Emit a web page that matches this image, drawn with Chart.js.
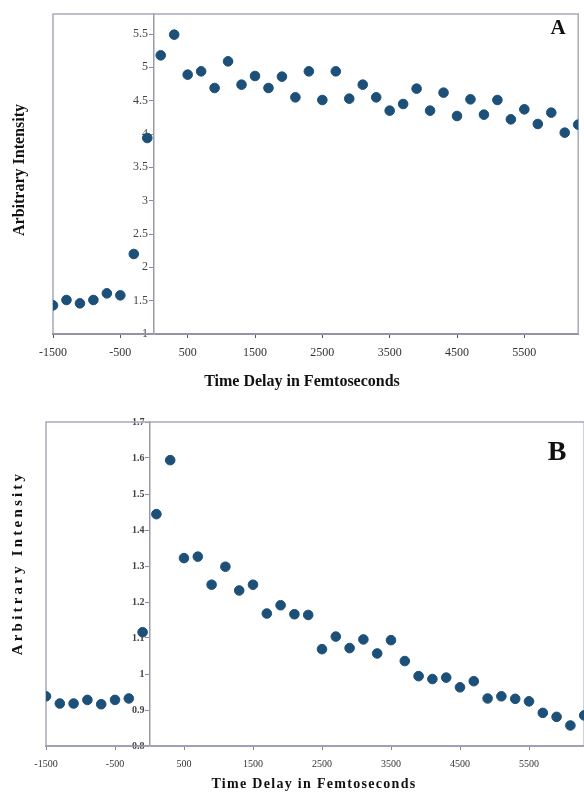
<!DOCTYPE html>
<html>
<head>
<meta charset="utf-8">
<script src="https://cdn.jsdelivr.net/npm/chart.js@4.4.1/dist/chart.umd.min.js"></script>
<style>
  html, body { margin: 0; padding: 0; background: #fff; overflow: hidden; width: 584px; height: 793px; }
  .box { position: absolute; left: 0; }
  .lbl { position: absolute; font-family: 'Liberation Serif', 'Times New Roman', serif; font-weight: bold; color: #111; white-space: nowrap; }
  .rot { transform: translate(-50%, -50%) rotate(-90deg); }
  .ctr { transform: translate(-50%, -50%); }
</style>
</head>
<body>
<div class="box" style="top:0;width:584px;height:400px"><canvas id="chartA"></canvas></div>
<div class="box" style="top:400px;width:590px;height:400px"><canvas id="chartB"></canvas></div>

<div class="lbl rot" style="left:19px;top:170px;font-size:16px">Arbitrary Intensity</div>
<div class="lbl ctr" style="left:302px;top:381px;font-size:16px">Time Delay in Femtoseconds</div>
<div class="lbl ctr" style="left:558px;top:27px;font-size:21px">A</div>

<div class="lbl rot" style="left:17px;top:563px;font-size:15px;letter-spacing:3.2px">Arbitrary Intensity</div>
<div class="lbl ctr" style="left:314px;top:784px;font-size:14px;letter-spacing:1.3px">Time Delay in Femtoseconds</div>
<div class="lbl ctr" style="left:557px;top:451px;font-size:28px">B</div>

<script>
// retardo (fs), 200 fs entre puntos
var delays = [-1500, -1300, -1100, -900, -700, -500, -300, -100,
  100, 300, 500, 700, 900, 1100, 1300, 1500, 1700, 1900, 2100, 2300,
  2500, 2700, 2900, 3100, 3300, 3500, 3700, 3900, 4100, 4300, 4500,
  4700, 4900, 5100, 5300, 5500, 5700, 5900, 6100, 6300];

var intensityA = [1.43, 1.51, 1.46, 1.51, 1.61, 1.58, 2.20, 3.94,
  5.18, 5.49, 4.89, 4.94, 4.69, 5.09, 4.74, 4.87, 4.69, 4.86, 4.55, 4.94,
  4.51, 4.94, 4.53, 4.74, 4.55, 4.35, 4.45, 4.68, 4.35, 4.62, 4.27,
  4.52, 4.29, 4.51, 4.22, 4.37, 4.15, 4.32, 4.02, 4.14];

var intensityB = [0.938, 0.918, 0.918, 0.928, 0.916, 0.928, 0.932, 1.116,
  1.444, 1.594, 1.322, 1.326, 1.248, 1.298, 1.232, 1.248, 1.168, 1.191, 1.166, 1.164,
  1.069, 1.104, 1.072, 1.096, 1.057, 1.094, 1.036, 0.994, 0.986, 0.990, 0.963,
  0.980, 0.932, 0.938, 0.931, 0.924, 0.892, 0.881, 0.857, 0.885];

var xTicks = [-1500, -500, 500, 1500, 2500, 3500, 4500, 5500];
var yTicksA = [1, 1.5, 2, 2.5, 3, 3.5, 4, 4.5, 5, 5.5];
var yTicksB = [0.8, 0.9, 1, 1.1, 1.2, 1.3, 1.4, 1.5, 1.6, 1.7];

var DOT = '#1d5078';
var SERIF = "'Liberation Serif', 'Times New Roman', serif";

// marco gris alrededor del área del gráfico
var framePlugin = {
  id: 'frame',
  beforeDatasetsDraw: function(chart, args, opts) {
    var a = chart.chartArea, ctx = chart.ctx;
    ctx.save();
    ctx.strokeStyle = opts.color;
    ctx.lineWidth = 1.5;
    ctx.strokeRect(a.left, a.top, a.right - a.left, a.bottom - a.top);
    ctx.restore();
  }
};

function makeChart(id, values, yTicks, cfg) {
  var points = delays.map(function(d, i) { return { x: d, y: values[i] }; });
  return new Chart(document.getElementById(id), {
    type: 'scatter',
    data: { datasets: [{ data: points, backgroundColor: DOT, borderColor: DOT, pointRadius: cfg.r, pointHoverRadius: cfg.r }] },
    plugins: [framePlugin],
    options: {
      responsive: true,
      maintainAspectRatio: false,
      animation: false,
      layout: { padding: { left: cfg.left, top: cfg.top, right: cfg.right, bottom: 0 } },
      plugins: { legend: { display: false }, tooltip: { enabled: false }, frame: { color: '#a9a9b9' } },
      scales: {
        x: {
          type: 'linear', min: -1500, max: 6300,
          afterBuildTicks: function(s) { s.ticks = xTicks.map(function(v) { return { value: v }; }); },
          afterFit: function(s) { s.height = cfg.xh; },
          grid: { drawOnChartArea: false, tickLength: 4, color: cfg.xColor },
          border: { color: cfg.xColor, width: 2 },
          ticks: { font: { family: SERIF, size: cfg.xFont }, color: '#333', padding: cfg.xPad, maxRotation: 0, callback: function(v) { return String(v); } }
        },
        y: {
          type: 'linear', position: { x: 0 }, min: cfg.ymin, max: cfg.ymax,
          afterBuildTicks: function(s) { s.ticks = yTicks.map(function(v) { return { value: v }; }); },
          grid: { drawOnChartArea: false, tickLength: 4, color: '#8a8a9c' },
          border: { color: '#9a9aac', width: 1.5 },
          // eje en x=0: la etiqueta queda pegada a la línea, se separa con un espacio
          ticks: { font: { family: SERIF, size: cfg.yFont, weight: cfg.yWeight }, color: '#444', callback: function(v) { return String(v) + '\u2002'; } }
        }
      }
    }
  });
}

makeChart('chartA', intensityA, yTicksA, {
  r: 4.8, left: 53, top: 14, right: 3, xh: 66, xColor: '#55557a', xFont: 12, xPad: 8,
  yFont: 12, yWeight: 'normal', ymin: 1, ymax: 5.8
});

makeChart('chartB', intensityB, yTicksB, {
  r: 4.8, left: 46, top: 22, right: 4, xh: 54, xColor: '#8888a0', xFont: 10, xPad: 8,
  yFont: 10, yWeight: 'bold', ymin: 0.8, ymax: 1.7
});
</script>
</body>
</html>
